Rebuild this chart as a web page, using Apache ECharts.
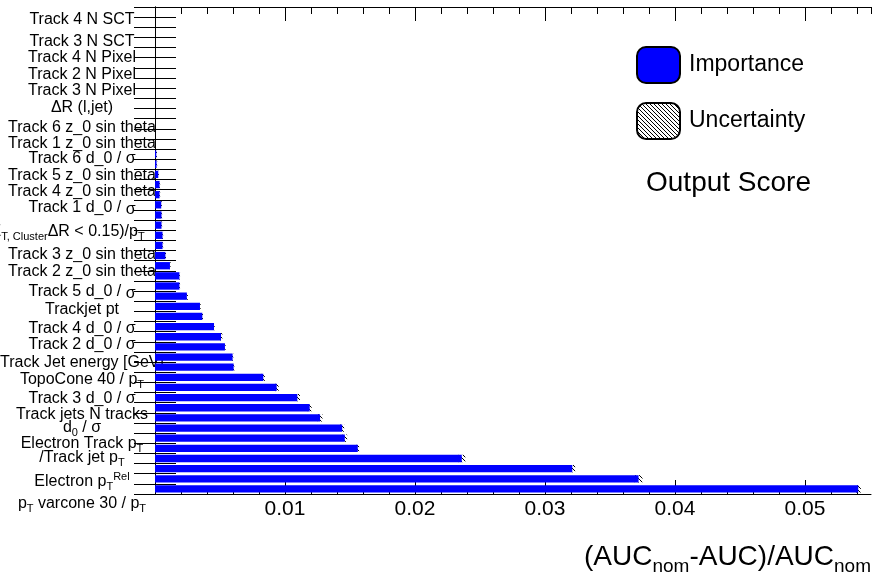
<!DOCTYPE html>
<html>
<head>
<meta charset="utf-8">
<script src="https://cdn.jsdelivr.net/npm/echarts@6/dist/echarts.min.js"></script>
<style>
  html, body { margin: 0; padding: 0; background: #fff; }
  #main { width: 873px; height: 585px; }
</style>
</head>
<body>
<div id="main"></div>
<script>
// importance per bin, top bin first
const importance = [
  0, 0, 0, 0, 0, 0, 0, 0, 0, 0, 0, 0, 0, 0,
  0.0001, 0.00012, 0.00025, 0.00035, 0.00035, 0.00048, 0.0005, 0.0005, 0.00058, 0.00058,
  0.0008, 0.00115, 0.00188, 0.00188, 0.00245, 0.00346, 0.00364, 0.00454, 0.00508, 0.00538,
  0.00597, 0.00605, 0.00833, 0.00936, 0.01095, 0.0119, 0.0127, 0.0144, 0.0146, 0.0156,
  0.0236, 0.0321, 0.0372, 0.0541
]
const uncertainty = [
  0, 0, 0, 0, 0, 0, 0, 0, 0, 0, 0, 0, 0, 0,
  0.00003, 0.00003, 0.00003, 0.00003, 0.00003, 0.00003, 0.00003, 0.00003, 0.00003, 0.00003,
  0.00003, 0.00003, 0.00003, 0.00003, 0.00008, 0.00005, 0.00005, 0.00005, 0.0001, 0.00005,
  0.00005, 0.00005, 0.00012, 0.00015, 0.0002, 0.00015, 0.00018, 0.00015, 0.00018, 0.0001,
  0.00027, 0.00022, 0.0003, 0.0002
]
const bins = importance.map((v, i) => i)

// variable names shown on the left (rich text markup for sub/superscripts)
const varNames = [
  'Track 4 N SCT',
  'Track 3 N SCT',
  'Track 4 N Pixel',
  'Track 2 N Pixel',
  'Track 3 N Pixel',
  'ΔR (l,jet)',
  'Track 6 z_0 sin theta',
  'Track 1 z_0 sin theta',
  'Track 6 d_0 / σ',
  'Track 5 z_0 sin theta',
  'Track 4 z_0 sin theta',
  'Track 1 d_0 / {low|σ}',
  '(ΣE{sub|T, Cluster}ΔR < 0.15)/p{sub|T}{gap|}',
  'Track 3 z_0 sin theta',
  'Track 2 z_0 sin theta',
  'Track 5 d_0 / {low|σ}',
  'Trackjet pt',
  'Track 4 d_0 / σ',
  'Track 2 d_0 / σ',
  'Track Jet energy [GeV]',
  'TopoCone 40 / p{sub|T}',
  'Track 3 d_0 / σ',
  'Track jets N tracks',
  'd{sub|0} / σ',
  'Electron Track p{sub|T}',
  '/Track jet p{sub|T}',
  'Electron p{sub|T}{sup|Rel}',
  'p{sub|T} varcone 30 / p{sub|T}'
]
const xTicks = [0.01, 0.02, 0.03, 0.04, 0.05]

// layout: pixel row of each name
const nameRows = [20, 42, 58, 75, 91, 108, 128, 144, 159, 176, 192, 208, 232, 255, 272,
  292, 310, 329, 345, 363, 380, 399, 415, 428, 444, 458, 482, 504]
const nameAt = {}
nameRows.forEach((y, i) => { nameAt[y] = varNames[i] })

const FONT = '"Liberation Sans", Arial, Helvetica, sans-serif'
const XMAX = 0.05508

function makeHatch(step) {
  const c = document.createElement('canvas')
  c.width = step
  c.height = step
  const ctx = c.getContext('2d')
  ctx.strokeStyle = '#000'
  ctx.lineWidth = 1
  ctx.beginPath()
  for (let k of [-step, 0, step]) {
    ctx.moveTo(k, 0)
    ctx.lineTo(k + step, step)
  }
  ctx.stroke()
  return { image: c, repeat: 'repeat' }
}
const hatch = makeHatch(4)

let chart = echarts.init(document.getElementById('main'), null, { renderer: 'canvas' })

const isMajor = v => v > 0 && Math.abs(v / 0.01 - Math.round(v / 0.01)) < 1e-6

let option = {
  animation: false,
  backgroundColor: '#fff',
  textStyle: { fontFamily: FONT },
  title: {
    text: 'Output Score',
    left: 646,
    top: 169,
    padding: 0,
    textStyle: { fontSize: 28, fontWeight: 'normal', color: '#000', fontFamily: FONT }
  },
  legend: {
    orient: 'vertical',
    left: 636,
    top: 46,
    padding: 0,
    itemWidth: 43,
    itemHeight: 36,
    itemGap: 18,
    textStyle: { fontSize: 23, color: '#000', fontFamily: FONT, padding: [0, 0, 0, 4] },
    data: [
      { name: 'Importance', icon: 'roundRect', itemStyle: { color: '#0000ff', borderColor: '#000', borderWidth: 2 } },
      { name: 'Uncertainty', icon: 'roundRect', itemStyle: { color: hatch, borderColor: '#000', borderWidth: 2 } }
    ]
  },
  grid: [
    { left: 155, right: 2, top: 7, bottom: 91, outerBoundsMode: 'none', containLabel: false },
    { left: 155, right: 2, top: 0, bottom: 0, outerBoundsMode: 'none', containLabel: false }
  ],
  xAxis: [
    {
      type: 'value', gridIndex: 0, position: 'bottom', min: 0, max: XMAX, interval: 0.002,
      splitLine: { show: false },
      axisLine: { show: true, lineStyle: { color: '#000', width: 1 } },
      axisTick: { show: true, inside: true, length: 7, lineStyle: { color: '#000' } },
      axisLabel: {
        show: true, margin: 5, fontSize: 21, color: '#000', fontFamily: FONT,
        showMinLabel: false, showMaxLabel: false,
        formatter: v => isMajor(v) ? v.toFixed(2) : ''
      },
      name: '(AUC{sub|nom}-AUC)/AUC{sub|nom}',
      nameLocation: 'end',
      nameGap: 0,
      nameTextStyle: {
        fontSize: 28, color: '#000', fontFamily: FONT, align: 'right', verticalAlign: 'top',
        padding: [45, 0, 0, 0],
        rich: { sub: { fontSize: 19, padding: [18, 0, 0, 0], fontFamily: FONT, color: '#000' } }
      }
    },
    {
      type: 'value', gridIndex: 0, position: 'bottom', min: 0, max: XMAX,
      splitLine: { show: false }, axisLine: { show: false }, axisLabel: { show: false },
      axisTick: { show: true, inside: true, length: 14, customValues: xTicks, lineStyle: { color: '#000' } }
    },
    {
      type: 'value', gridIndex: 0, position: 'top', min: 0, max: XMAX, interval: 0.002,
      splitLine: { show: false }, axisLabel: { show: false },
      axisLine: { show: true, lineStyle: { color: '#000', width: 1 } },
      axisTick: { show: true, inside: true, length: 7, lineStyle: { color: '#000' } }
    },
    {
      type: 'value', gridIndex: 0, position: 'top', min: 0, max: XMAX,
      splitLine: { show: false }, axisLine: { show: false }, axisLabel: { show: false },
      axisTick: { show: true, inside: true, length: 14, customValues: xTicks, lineStyle: { color: '#000' } }
    },
    { type: 'value', gridIndex: 1, show: false, min: 0, max: 1 }
  ],
  yAxis: [
    {
      type: 'category', gridIndex: 0, position: 'left', inverse: true, data: bins,
      axisLine: { show: true, lineStyle: { color: '#000', width: 1 } },
      axisTick: { show: true, inside: true, length: 21, interval: 0, lineStyle: { color: '#000' } },
      axisLabel: { show: false }
    },
    {
      type: 'category', gridIndex: 0, position: 'right', inverse: true, data: bins,
      axisLine: { show: true, lineStyle: { color: '#000', width: 1 } },
      axisTick: { show: true, inside: true, length: 21, interval: 0, lineStyle: { color: '#000' } },
      axisLabel: { show: false }
    },
    {
      // variable names, placed on their own rows
      type: 'value', gridIndex: 1, position: 'left', inverse: true, min: 0, max: 585,
      splitLine: { show: false }, axisLine: { show: false }, axisTick: { show: false },
      axisLabel: {
        show: true,
        customValues: nameRows,
        align: 'center',
        margin: 73,
        fontSize: 16,
        color: '#000',
        fontFamily: FONT,
        formatter: v => nameAt[Math.round(v)] || '',
        rich: {
          sub: { fontSize: 11, padding: [10, 0, 0, 0], color: '#000', fontFamily: FONT },
          sup: { fontSize: 11, padding: [0, 0, 10, 0], color: '#000', fontFamily: FONT },
          low: { fontSize: 16, padding: [4, 0, 0, 0], color: '#000', fontFamily: FONT },
          gap: { width: 44 }
        }
      }
    }
  ],
  series: [
    {
      name: 'Importance',
      type: 'bar',
      xAxisIndex: 0,
      yAxisIndex: 0,
      data: importance,
      barWidth: '72%',
      itemStyle: { color: '#0000ff' }
    },
    {
      name: 'Uncertainty',
      type: 'custom',
      xAxisIndex: 0,
      yAxisIndex: 0,
      itemStyle: { color: hatch },
      encode: { x: 0, y: 1 },
      data: importance.map((v, i) => [v, i, uncertainty[i]]).filter(d => d[2] > 0),
      renderItem: function (params, api) {
        let lo = api.coord([api.value(0) - api.value(2), api.value(1)])
        let hi = api.coord([api.value(0) + api.value(2), api.value(1)])
        let h = api.size([0, 1])[1] * 0.72
        return {
          type: 'rect',
          shape: { x: lo[0], y: lo[1] - h / 2, width: Math.max(hi[0] - lo[0], 1), height: h },
          style: { fill: hatch }
        }
      }
    }
  ]
}

chart.setOption(option)
</script>
</body>
</html>
